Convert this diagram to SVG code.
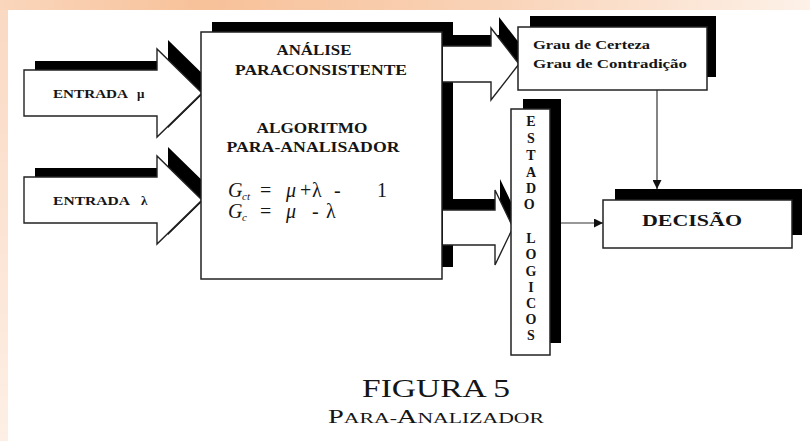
<svg xmlns="http://www.w3.org/2000/svg" width="810" height="441" viewBox="0 0 810 441">
<defs>
<linearGradient id="gTop" x1="0" y1="0" x2="1" y2="0">
<stop offset="0" stop-color="#fad6bc"/>
<stop offset="0.25" stop-color="#f7c199"/>
<stop offset="0.6" stop-color="#f9d2b6"/>
<stop offset="1" stop-color="#fdf1e8"/>
</linearGradient>
<linearGradient id="gLeft" x1="0" y1="0" x2="0" y2="1">
<stop offset="0" stop-color="#fad9c3"/>
<stop offset="1" stop-color="#fdefe5"/>
</linearGradient>
<marker id="ah" viewBox="0 0 10 10" refX="10" refY="5" markerWidth="9" markerHeight="9" markerUnits="userSpaceOnUse" orient="auto">
<path d="M0,0 L10,5 L0,10 z" fill="#111"/>
</marker>
<style>
.t{font-family:"Liberation Serif",serif;font-weight:bold;fill:#151515}
.f{font-family:"Liberation Serif",serif;fill:#151515}
.sh{fill:#000}
.bx{fill:#fff;stroke:#222;stroke-width:1.5}
.ar{fill:#fff;stroke:#222;stroke-width:1.4;stroke-linejoin:miter}
.ln{stroke:#333;stroke-width:1.2;fill:none}
</style>
</defs>
<rect x="0" y="0" width="810" height="441" fill="#fff"/>
<rect x="0" y="0" width="810" height="10" fill="url(#gTop)"/>
<rect x="0" y="10" width="8" height="431" fill="url(#gLeft)"/>

<g id="node-entrada-mu">
<polygon class="sh" points="35,61 168,61 168,40 213,84 168,128 168,107 35,107"/>
<polygon class="ar" points="24,70 157,70 157,49 202,93 157,137 157,116 24,116"/>
<text class="t" x="53" y="98" font-size="13" textLength="75" lengthAdjust="spacingAndGlyphs">ENTRADA</text>
<text class="t" x="137" y="98" font-size="13">μ</text>
</g>

<g id="node-entrada-lambda">
<polygon class="sh" points="35,168 168,168 168,147 213,191 168,235 168,214 35,214"/>
<polygon class="ar" points="24,177 157,177 157,156 202,200 157,244 157,223 24,223"/>
<text class="t" x="53" y="205" font-size="13" textLength="77" lengthAdjust="spacingAndGlyphs">ENTRADA</text>
<text class="t" x="141" y="205" font-size="13">λ</text>
</g>

<g id="node-analise">
<rect class="sh" x="212" y="22" width="241" height="245"/>
<rect class="bx" x="201" y="32" width="241" height="247"/>
<text class="t" x="314" y="55" font-size="14" text-anchor="middle" textLength="75" lengthAdjust="spacingAndGlyphs">ANÁLISE</text>
<text class="t" x="321" y="75" font-size="14" text-anchor="middle" textLength="172" lengthAdjust="spacingAndGlyphs">PARACONSISTENTE</text>
<text class="t" x="312" y="133" font-size="14" text-anchor="middle" textLength="111" lengthAdjust="spacingAndGlyphs">ALGORITMO</text>
<text class="t" x="313" y="152" font-size="14" text-anchor="middle" textLength="173" lengthAdjust="spacingAndGlyphs">PARA-ANALISADOR</text>
<text class="f" y="197" font-size="20"><tspan x="228" font-style="italic">G</tspan><tspan x="242" y="200" font-size="11" font-style="italic">ct</tspan><tspan x="260" y="197">=</tspan><tspan x="286" font-style="italic">μ</tspan><tspan x="300">+</tspan><tspan x="312">λ</tspan><tspan x="334">-</tspan><tspan x="377">1</tspan></text>
<text class="f" y="218" font-size="20"><tspan x="228" font-style="italic">G</tspan><tspan x="242" y="221" font-size="11" font-style="italic">c</tspan><tspan x="260" y="218">=</tspan><tspan x="286" font-style="italic">μ</tspan><tspan x="312">-</tspan><tspan x="326">λ</tspan></text>
</g>

<g id="connectors">
<polygon class="sh" points="449,35 499,35 499,17 527,53 499,89 499,71 449,71"/>
<polygon fill="#fff" points="443,46 491,46 491,28 519,64 491,100 491,82 443,82"/>
<polyline class="ar" fill="none" points="443,46 491,46 491,28 519,64 491,100 491,82 443,82"/>
<polygon class="sh" points="448,199 500,199 500,179 518,216.5 500,254 500,234 448,234"/>
<polygon fill="#fff" points="443,210 495,210 495,190 513,227.5 495,265 495,245 443,245"/>
<polyline class="ar" fill="none" points="443,210 495,210 495,190 513,227.5 495,265 495,245 443,245"/>
<line class="ln" x1="657" y1="90" x2="657" y2="189" marker-end="url(#ah)"/>
<line class="ln" x1="561" y1="223" x2="603" y2="223" marker-end="url(#ah)"/>
</g>

<g id="node-grau">
<rect class="sh" x="530" y="16" width="186" height="61"/>
<rect class="bx" x="518" y="27" width="189" height="63"/>
<text class="t" x="533" y="49" font-size="13" textLength="117" lengthAdjust="spacingAndGlyphs">Grau de Certeza</text>
<text class="t" x="533" y="68" font-size="13" textLength="154" lengthAdjust="spacingAndGlyphs">Grau de Contradição</text>
</g>

<g id="node-estado">
<rect class="sh" x="523" y="99" width="38" height="244"/>
<rect class="bx" x="511" y="109" width="39" height="246"/>
<text class="t" font-size="14" text-anchor="middle">
<tspan x="531" y="126">E</tspan><tspan x="531" y="143">S</tspan><tspan x="531" y="160">T</tspan><tspan x="531" y="177">A</tspan><tspan x="531" y="193">D</tspan><tspan x="531" y="209">O</tspan>
<tspan x="531" y="243">L</tspan><tspan x="531" y="259">O</tspan><tspan x="531" y="276">G</tspan><tspan x="531" y="292">I</tspan><tspan x="531" y="308">C</tspan><tspan x="531" y="324">O</tspan><tspan x="531" y="340">S</tspan>
</text>
</g>

<g id="node-decisao">
<rect class="sh" x="615" y="189" width="187" height="46"/>
<rect class="bx" x="603" y="200" width="189" height="48"/>
<text class="t" x="692" y="226" font-size="17" text-anchor="middle" textLength="100" lengthAdjust="spacingAndGlyphs">DECISÃO</text>
</g>

<g id="caption">
<text class="f" x="436" y="397" font-size="25" text-anchor="middle" textLength="148" lengthAdjust="spacingAndGlyphs">FIGURA 5</text>
<text class="f" x="436" y="423" text-anchor="middle" textLength="216" lengthAdjust="spacingAndGlyphs"><tspan font-size="19">P</tspan><tspan font-size="14.5">ARA-</tspan><tspan font-size="19">A</tspan><tspan font-size="14.5">NALIZADOR</tspan></text>
</g>
</svg>
